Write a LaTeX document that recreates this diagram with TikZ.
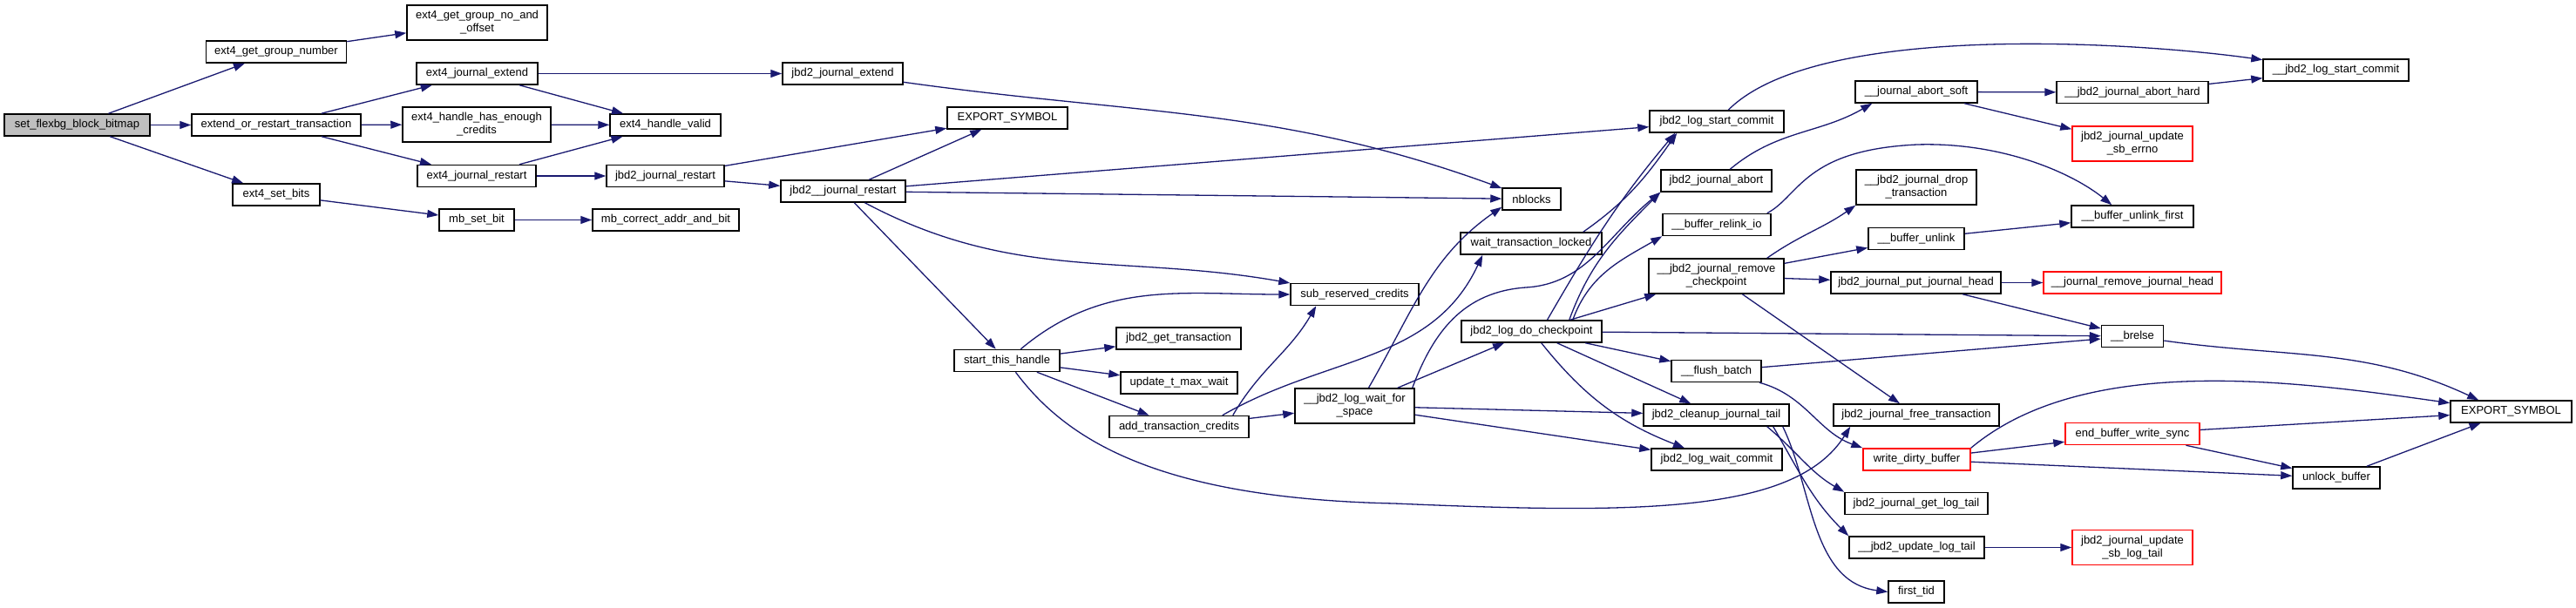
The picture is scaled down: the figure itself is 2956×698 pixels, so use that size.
\documentclass[tikz,border=0pt]{standalone}
\usepackage{fontspec}
\setmainfont{Liberation Sans}
\usepackage{xcolor}
\usepackage{tikz}
\usetikzlibrary{arrows.meta}

\definecolor{edgeblue}{HTML}{191970}
\definecolor{rootgray}{HTML}{BFBFBF}

\tikzset{
    fn/.style={draw=black, line width=1.5pt, fill=white, inner sep=0pt,
        minimum height=25pt, align=center, font={\fontsize{13}{15}\selectfont}},
    fntwo/.style={fn, minimum height=40pt},
    fnred/.style={draw=red},
    fnroot/.style={fn, fill=rootgray},
    call/.style={->, draw=edgeblue, line width=1.3pt},
}

\begin{document}
\begin{tikzpicture}[>={Triangle[length=13pt,width=9pt]}, x=1pt, y=1pt]
    \useasboundingbox (0,0) rectangle (2956,-698);

    % Cột 1-3
    \node[fnroot, minimum width=167pt] (root) at (88.5,-143.5) {set\_flexbg\_block\_bitmap};
    \node[fn, minimum width=161pt] (ggn) at (317,-59.5) {ext4\_get\_group\_number};
    \node[fn, minimum width=194pt] (eort) at (317,-143.5) {extend\_or\_restart\_transaction};
    \node[fn, minimum width=100pt] (setbits) at (317,-223.5) {ext4\_set\_bits};
    \node[fntwo, minimum width=161pt] (gnoff) at (547.5,-26) {ext4\_get\_group\_no\_and\\\_offset};
    \node[fn, minimum width=139pt] (jext) at (547.5,-84.5) {ext4\_journal\_extend};
    \node[fntwo, minimum width=170pt] (hcred) at (547,-143) {ext4\_handle\_has\_enough\\\_credits};
    \node[fn, minimum width=136pt] (jrst) at (547,-202) {ext4\_journal\_restart};
    \node[fn, minimum width=86pt] (mbset) at (547,-252.5) {mb\_set\_bit};

    % Cột 4-6
    \node[fn, minimum width=127pt] (hvalid) at (763.5,-143.5) {ext4\_handle\_valid};
    \node[fn, minimum width=135pt] (jbdrst) at (763.5,-202) {jbd2\_journal\_restart};
    \node[fn, minimum width=168pt] (mbcorr) at (764,-252.5) {mb\_correct\_addr\_and\_bit};
    \node[fn, minimum width=138pt] (jbdext) at (967,-84.5) {jbd2\_journal\_extend};
    \node[fn, minimum width=143pt] (jbdrst2) at (967.5,-219.5) {jbd2\_\_journal\_restart};
    \node[fn, minimum width=138pt] (exp1) at (1156,-135.5) {EXPORT\_SYMBOL};
    \node[fn, minimum width=121pt] (start) at (1155.5,-414) {start\_this\_handle};

    % Cột 7-8
    \node[fn, minimum width=143pt] (gettr) at (1352.5,-388.5) {jbd2\_get\_transaction};
    \node[fn, minimum width=134pt] (upd) at (1353,-439.5) {update\_t\_max\_wait};
    \node[fn, minimum width=160pt] (addtc) at (1353,-490) {add\_transaction\_credits};
    \node[fn, minimum width=147pt] (subrc) at (1554.5,-338) {sub\_reserved\_credits};
    \node[fntwo, minimum width=137pt] (waitsp) at (1554.5,-466) {\_\_jbd2\_log\_wait\_for\\\_space};

    % Cột 9
    \node[fn, minimum width=67pt] (nblocks) at (1757.5,-228.5) {nblocks};
    \node[fn, minimum width=162pt] (wtl) at (1757,-279.5) {wait\_transaction\_locked};
    \node[fn, minimum width=161pt] (docp) at (1757.5,-380.5) {jbd2\_log\_do\_checkpoint};

    % Cột 10
    \node[fn, minimum width=154pt] (lsc) at (1970,-139.5) {jbd2\_log\_start\_commit};
    \node[fn, minimum width=127pt] (jabort) at (1969.5,-207.5) {jbd2\_journal\_abort};
    \node[fn, minimum width=124pt] (relink) at (1970,-258) {\_\_buffer\_relink\_io};
    \node[fntwo, minimum width=155pt] (rmcp) at (1969.5,-317) {\_\_jbd2\_journal\_remove\\\_checkpoint};
    \node[fn, minimum width=103pt] (flush) at (1969.5,-426) {\_\_flush\_batch};
    \node[fn, minimum width=167pt] (cleanup) at (1969.5,-476.5) {jbd2\_cleanup\_journal\_tail};
    \node[fn, minimum width=150pt] (lwc) at (1970,-527.5) {jbd2\_log\_wait\_commit};

    % Cột 11
    \node[fn, minimum width=140pt] (abortsoft) at (2199,-105.5) {\_\_journal\_abort\_soft};
    \node[fntwo, minimum width=138pt] (drop) at (2199,-215) {\_\_jbd2\_journal\_drop\\\_transaction};
    \node[fn, minimum width=110pt] (unlink) at (2199,-274) {\_\_buffer\_unlink};
    \node[fn, minimum width=195pt] (puthead) at (2198.5,-324.5) {jbd2\_journal\_put\_journal\_head};
    \node[fn, minimum width=190pt] (freetr) at (2199,-476.5) {jbd2\_journal\_free\_transaction};
    \node[fn, fnred, minimum width=123pt] (wdb) at (2199.5,-527.5) {write\_dirty\_buffer};
    \node[fn, minimum width=164pt] (getlt) at (2199,-578) {jbd2\_journal\_get\_log\_tail};
    \node[fn, minimum width=155pt] (updlt) at (2199.5,-628.5) {\_\_jbd2\_update\_log\_tail};
    \node[fn, minimum width=64pt] (firsttid) at (2199,-679.5) {first\_tid};

    % Cột 12-14
    \node[fn, minimum width=174pt] (aborthard) at (2447,-106) {\_\_jbd2\_journal\_abort\_hard};
    \node[fntwo, fnred, minimum width=138pt] (sberrno) at (2447,-165) {jbd2\_journal\_update\\\_sb\_errno};
    \node[fn, minimum width=140pt] (unlinkfirst) at (2447,-248.5) {\_\_buffer\_unlink\_first};
    \node[fn, fnred, minimum width=204pt] (rmhead) at (2447,-324.5) {\_\_journal\_remove\_journal\_head};
    \node[fn, minimum width=71pt] (brelse) at (2447,-386) {\_\_brelse};
    \node[fn, fnred, minimum width=154pt] (ebws) at (2447,-498) {end\_buffer\_write\_sync};
    \node[fntwo, fnred, minimum width=138pt] (sblt) at (2447,-628.5) {jbd2\_journal\_update\\\_sb\_log\_tail};
    \node[fn, minimum width=167pt] (lscc) at (2680.5,-80.5) {\_\_jbd2\_log\_start\_commit};
    \node[fn, minimum width=100pt] (unlock) at (2681,-548.5) {unlock\_buffer};
    \node[fn, minimum width=139pt] (exp2) at (2881.5,-472.5) {EXPORT\_SYMBOL};

    % Lời gọi
    \draw[call] (root) -- (ggn);
    \draw[call] (root) -- (eort);
    \draw[call] (root) -- (setbits);
    \draw[call] (ggn) -- (gnoff);
    \draw[call] (eort) -- (jext);
    \draw[call] (eort) -- (hcred);
    \draw[call] (eort) -- (jrst);
    \draw[call] (jext) -- (hvalid);
    \draw[call] (jext) -- (jbdext);
    \draw[call] (hcred) -- (hvalid);
    \draw[call] (jrst) -- (hvalid);
    \draw[call] (jrst) -- (jbdrst);
    \draw[call] (setbits) -- (mbset);
    \draw[call] (mbset) -- (mbcorr);
    \draw[call] (jbdext) to[out=-8,in=160] (nblocks);
    \draw[call] (jbdrst) -- (exp1);
    \draw[call] (jbdrst) -- (jbdrst2);
    \draw[call] (jbdrst2) -- (exp1);
    \draw[call] (jbdrst2) -- (lsc);
    \draw[call] (jbdrst2) -- (nblocks);
    \draw[call] (jbdrst2) to[out=-28,in=170] (subrc);
    \draw[call] (jbdrst2) -- (start);
    \draw[call] (start) to[out=40,in=180] (subrc);
    \draw[call] (start) -- (gettr);
    \draw[call] (start) -- (upd);
    \draw[call] (start) -- (addtc);
    \draw[call] (start) .. controls (1220,-500) and (1320,-572) .. (1600,-578)
        .. controls (1880,-590) and (2060,-590) .. ([xshift=20pt]freetr.south west);
    \draw[call] ([xshift=-19pt]addtc.north east) to[out=60,in=240] ([xshift=30pt]subrc.south west);
    \draw[call] ([xshift=-31pt]addtc.north east) to[out=30,in=245] ([xshift=26pt]wtl.south west);
    \draw[call] (addtc) -- (waitsp);
    \draw[call] ([xshift=16pt]waitsp.north) to[out=60,in=215] (nblocks.195);
    \draw[call] ([xshift=-3pt]waitsp.north east) .. controls (1645,-380) and (1680,-335) .. (1751,-330)
        .. controls (1820,-326) and (1845,-270) .. (jabort.south west);
    \draw[call] (waitsp) -- (docp);
    \draw[call] (waitsp) -- (cleanup);
    \draw[call] (waitsp) -- (lwc);
    \draw[call] ([xshift=-22pt]wtl.north east) to[out=35,in=235] ([xshift=32pt]lsc.south west);
    \draw[call] ([xshift=18pt]docp.north) to[out=60,in=230] ([xshift=30pt]lsc.south west);
    \draw[call] ([xshift=-38pt]docp.north east) to[out=70,in=225] (jabort.south west);
    \draw[call] ([xshift=-34pt]docp.north east) to[out=70,in=210] (relink.south west);
    \draw[call] (docp) -- (rmcp);
    \draw[call] (docp) -- (brelse);
    \draw[call] (docp) -- (flush);
    \draw[call] (docp) -- (cleanup);
    \draw[call] (docp) to[bend right=15] (lwc);
    \draw[call] (lsc) to[out=45,in=172,looseness=0.6] (lscc);
    \draw[call] (jabort) to[out=40,in=210] ([xshift=20pt]abortsoft.south west);
    \draw[call] ([xshift=-5pt]relink.north east) .. controls (2065,-225) and (2070,-172) .. (2200,-166)
        .. controls (2300,-163) and (2380,-200) .. ([xshift=47pt]unlinkfirst.north west);
    \draw[call] ([xshift=-20pt]rmcp.north east) to[out=35,in=215] (drop.south west);
    \draw[call] (rmcp) -- (unlink);
    \draw[call] (rmcp) -- (puthead);
    \draw[call] (rmcp) -- (freetr);
    \draw[call] (flush) -- (brelse);
    \draw[call] (flush) to[out=-15,in=160] (wdb.north west);
    \draw[call] ([xshift=-26pt]cleanup.south east) to[out=-40,in=150] (getlt.north west);
    \draw[call] ([xshift=-19pt]cleanup.south east) to[out=-60,in=135] (updlt.north west);
    \draw[call] ([xshift=-8pt]cleanup.south east) .. controls (2080,-560) and (2078,-668) .. (firsttid.west);
    \draw[call] (abortsoft) -- (aborthard);
    \draw[call] (abortsoft) -- (sberrno);
    \draw[call] (aborthard) -- (lscc);
    \draw[call] (unlink) -- (unlinkfirst);
    \draw[call] (puthead) -- (rmhead);
    \draw[call] (puthead) -- (brelse);
    \draw[call] (brelse) to[out=-8,in=155] ([xshift=33pt]exp2.north west);
    \draw[call] (wdb.north east) to[out=40,in=172,looseness=0.8] (exp2);
    \draw[call] (wdb) -- (ebws);
    \draw[call] (wdb) -- (unlock);
    \draw[call] (ebws) -- (exp2);
    \draw[call] (ebws) -- (unlock);
    \draw[call] (unlock) -- (exp2);
    \draw[call] (updlt) -- (sblt);
\end{tikzpicture}
\end{document}
